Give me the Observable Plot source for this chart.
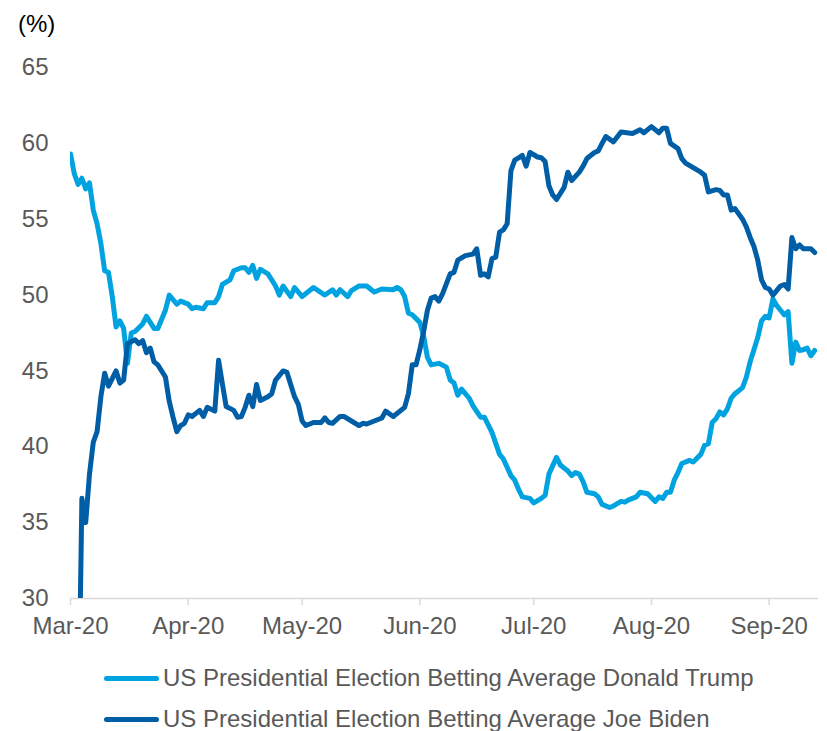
<!DOCTYPE html>
<html><head><meta charset="utf-8">
<script src="https://cdn.jsdelivr.net/npm/d3@7"></script>
<script src="https://cdn.jsdelivr.net/npm/@observablehq/plot@0.6"></script>
<style>
body{margin:0;background:#fff;font-family:"Liberation Sans",Arial,sans-serif;}
#wrap{position:relative;width:827px;height:731px;overflow:hidden;}
#unit{position:absolute;left:18px;top:9px;font-size:24px;color:#000;line-height:30px;}
.leg{position:absolute;left:104px;height:30px;display:flex;align-items:center;font-size:24px;color:#595959;white-space:nowrap;}
.sw{width:55px;height:5px;border-radius:3px;margin-right:4px;}
</style></head><body>
<div id="wrap"><div id="chart"></div><div id="unit">(%)</div><div id="legend"></div></div>
<script>
const seriesNames = ["US Presidential Election Betting Average Donald Trump", "US Presidential Election Betting Average Joe Biden"];
const seriesColors = ["#00A3E0", "#005EA6"];
const xTickDates = ["2020-03-01","2020-04-01","2020-05-01","2020-06-01","2020-07-01","2020-08-01","2020-09-01"];
const yTicks = [30,35,40,45,50,55,60,65];

const trumpDates = [
"2020-03-01","2020-03-02","2020-03-03","2020-03-04","2020-03-05","2020-03-06","2020-03-07","2020-03-08","2020-03-09","2020-03-10","2020-03-11","2020-03-12","2020-03-13","2020-03-14","2020-03-15","2020-03-16","2020-03-17","2020-03-18","2020-03-20","2020-03-21","2020-03-23","2020-03-24","2020-03-26","2020-03-27","2020-03-29","2020-03-30",
"2020-04-01","2020-04-02","2020-04-03","2020-04-05","2020-04-06","2020-04-08","2020-04-09","2020-04-10","2020-04-12","2020-04-13","2020-04-15","2020-04-16","2020-04-17","2020-04-18","2020-04-19","2020-04-20","2020-04-22","2020-04-24","2020-04-25","2020-04-26","2020-04-28","2020-04-29",
"2020-05-01","2020-05-02","2020-05-04","2020-05-07","2020-05-09","2020-05-10","2020-05-11","2020-05-13","2020-05-14","2020-05-16","2020-05-18","2020-05-20","2020-05-22","2020-05-25","2020-05-26","2020-05-27","2020-05-28","2020-05-29","2020-05-30",
"2020-06-01","2020-06-02","2020-06-03","2020-06-04","2020-06-06","2020-06-08","2020-06-09","2020-06-10","2020-06-11","2020-06-12","2020-06-14","2020-06-15","2020-06-17","2020-06-18","2020-06-20","2020-06-22","2020-06-23","2020-06-25","2020-06-26","2020-06-27","2020-06-28","2020-06-30",
"2020-07-01","2020-07-03","2020-07-04","2020-07-05","2020-07-07","2020-07-08","2020-07-10","2020-07-11","2020-07-12","2020-07-13","2020-07-14","2020-07-15","2020-07-17","2020-07-18","2020-07-19","2020-07-21","2020-07-22","2020-07-24","2020-07-25","2020-07-26","2020-07-28","2020-07-29","2020-07-31",
"2020-08-02","2020-08-03","2020-08-04","2020-08-05","2020-08-06","2020-08-07","2020-08-08","2020-08-09","2020-08-11","2020-08-12","2020-08-14","2020-08-15","2020-08-16","2020-08-17","2020-08-18","2020-08-19","2020-08-20","2020-08-21","2020-08-22","2020-08-23","2020-08-25","2020-08-26","2020-08-27","2020-08-28","2020-08-29","2020-08-30","2020-08-31",
"2020-09-01","2020-09-02","2020-09-03","2020-09-04","2020-09-05","2020-09-06","2020-09-07","2020-09-08","2020-09-09","2020-09-10","2020-09-11","2020-09-12","2020-09-13"];
const trumpValues = [
59.3,58.0,57.3,57.7,57.0,57.4,55.6,54.7,53.4,51.6,51.5,49.9,47.9,48.3,47.8,45.5,47.5,47.6,48.1,48.6,47.8,47.8,49.0,50.0,49.4,49.6,
49.4,49.1,49.2,49.1,49.5,49.5,49.9,50.7,51.0,51.6,51.8,51.8,51.5,51.95,51.1,51.7,51.4,50.6,50.0,50.6,49.9,50.5,
49.9,50.1,50.5,50.0,50.35,50.0,50.35,49.9,50.3,50.6,50.6,50.2,50.4,50.35,50.5,50.35,49.9,48.8,48.7,
48.2,47.3,45.9,45.4,45.5,45.25,44.4,44.2,43.4,43.8,43.2,42.7,41.95,41.95,40.95,39.5,39.2,38.1,37.8,37.2,36.7,36.6,
36.3,36.6,36.8,38.2,39.3,38.8,38.4,38.1,38.3,38.2,37.7,37.0,36.9,36.7,36.2,36.0,36.1,36.4,36.35,36.5,36.7,37.0,36.9,
36.4,36.7,36.6,37.0,37.0,37.8,38.3,38.9,39.1,39.0,39.5,40.1,40.2,41.6,41.85,42.3,42.1,42.5,43.2,43.5,43.9,44.6,45.6,46.4,47.2,48.3,48.6,
48.5,49.75,49.3,49.0,48.7,48.9,45.5,46.9,46.35,46.4,46.5,46.0,46.35];

const bidenDates = [
"2020-03-03","2020-03-04","2020-03-05","2020-03-06","2020-03-07","2020-03-08","2020-03-09","2020-03-10","2020-03-11","2020-03-13","2020-03-14","2020-03-15","2020-03-16","2020-03-18","2020-03-19","2020-03-20","2020-03-21","2020-03-22","2020-03-23","2020-03-24","2020-03-26","2020-03-27","2020-03-28","2020-03-29","2020-03-30","2020-03-31",
"2020-04-01","2020-04-02","2020-04-04","2020-04-05","2020-04-06","2020-04-08","2020-04-09","2020-04-10","2020-04-11","2020-04-13","2020-04-14","2020-04-15","2020-04-16","2020-04-17","2020-04-18","2020-04-19","2020-04-20","2020-04-22","2020-04-23","2020-04-24","2020-04-26","2020-04-27","2020-04-29","2020-04-30",
"2020-05-01","2020-05-02","2020-05-04","2020-05-06","2020-05-07","2020-05-08","2020-05-09","2020-05-11","2020-05-12","2020-05-14","2020-05-16","2020-05-17","2020-05-18","2020-05-20","2020-05-22","2020-05-23","2020-05-25","2020-05-28","2020-05-29","2020-05-30","2020-05-31",
"2020-06-01","2020-06-02","2020-06-03","2020-06-04","2020-06-05","2020-06-06","2020-06-07","2020-06-09","2020-06-10","2020-06-11","2020-06-13","2020-06-15","2020-06-16","2020-06-17","2020-06-18","2020-06-19","2020-06-20","2020-06-21","2020-06-22","2020-06-23","2020-06-24","2020-06-25","2020-06-26","2020-06-27","2020-06-28","2020-06-29","2020-06-30",
"2020-07-02","2020-07-03","2020-07-04","2020-07-05","2020-07-06","2020-07-07","2020-07-09","2020-07-10","2020-07-11","2020-07-13","2020-07-14","2020-07-15","2020-07-17","2020-07-18","2020-07-19","2020-07-20","2020-07-22","2020-07-24","2020-07-27","2020-07-29","2020-07-30",
"2020-08-01","2020-08-03","2020-08-04","2020-08-05","2020-08-06","2020-08-08","2020-08-09","2020-08-10","2020-08-12","2020-08-14","2020-08-15","2020-08-16","2020-08-18","2020-08-19","2020-08-20","2020-08-21","2020-08-22","2020-08-23","2020-08-25","2020-08-26","2020-08-27","2020-08-28","2020-08-29","2020-08-30","2020-08-31",
"2020-09-01","2020-09-02","2020-09-04","2020-09-05","2020-09-06","2020-09-07","2020-09-08","2020-09-09","2020-09-10","2020-09-12","2020-09-13"];
const bidenValues = [
20,36.6,35.0,38.2,40.3,41.0,43.3,44.85,44.0,45.0,44.2,44.4,46.8,47.05,46.8,47.0,46.2,46.5,45.6,45.4,44.6,43.0,41.95,41.0,41.4,41.55,
42.1,42.0,42.4,42.0,42.6,42.35,45.7,44.15,42.65,42.4,41.95,42.0,42.6,43.4,42.65,44.1,43.05,43.3,43.5,44.4,45.0,44.9,43.3,42.8,
41.7,41.4,41.6,41.6,41.9,41.6,41.55,42.0,42.0,41.7,41.4,41.55,41.5,41.7,41.9,42.35,42.0,42.6,43.5,45.4,45.4,
46.4,47.6,49.0,49.8,49.9,49.6,50.1,51.4,51.5,52.3,52.6,52.7,53.05,51.3,51.4,51.2,52.4,52.5,54.15,54.3,54.7,58.2,58.9,59.05,59.2,58.5,59.4,
59.1,59.05,58.8,57.2,56.6,56.3,57.1,58.1,57.55,58.1,58.5,59.0,59.4,59.5,60.0,60.45,60.1,60.75,60.65,60.9,60.7,
61.1,60.7,61.0,61.0,60.0,59.65,59.0,58.7,58.4,58.1,57.9,56.8,56.95,56.9,56.6,56.6,55.6,55.7,55.0,54.5,53.8,53.2,52.3,51.0,50.5,
50.4,50.0,50.6,50.7,50.4,53.8,53.05,53.3,53.05,53.05,52.8];

const trump = trumpDates.map((d, i) => ({date: new Date(d), value: trumpValues[i]}));
const biden = bidenDates.map((d, i) => ({date: new Date(d), value: bidenValues[i]}));

const chart = Plot.plot({
  width: 827,
  height: 645,
  marginLeft: 70,
  marginRight: 9,
  marginTop: 67,
  marginBottom: 47,
  style: {fontFamily: '"Liberation Sans", Arial, sans-serif', fontSize: "24px", color: "#595959", background: "#fff", overflow: "visible"},
  x: {type: "utc", domain: [new Date("2020-03-01"), new Date("2020-09-14")]},
  y: {domain: [30, 65]},
  marks: [
    Plot.ruleY([30], {stroke: "#d9d9d9", strokeWidth: 1.5}),
    Plot.axisX(xTickDates.map(d => new Date(d)), {tickFormat: d3.utcFormat("%b-%y"), tickSize: 7, tickPadding: 11, stroke: "#d9d9d9", strokeWidth: 1.5, fontSize: 24, label: null}),
    Plot.axisY(yTicks, {tickSize: 0, tickPadding: 22, fontSize: 24, label: null}),
    Plot.lineY(trump, {x: "date", y: "value", stroke: seriesColors[0], strokeWidth: 5, strokeLinejoin: "round", strokeLinecap: "round", clip: true}),
    Plot.lineY(biden, {x: "date", y: "value", stroke: seriesColors[1], strokeWidth: 5, strokeLinejoin: "round", strokeLinecap: "round", clip: true})
  ]
});
document.getElementById("chart").appendChild(chart);

const legend = document.getElementById("legend");
seriesNames.forEach((name, i) => {
  const row = document.createElement("div");
  row.className = "leg";
  row.style.top = (663 + i * 41) + "px";
  const sw = document.createElement("div");
  sw.className = "sw";
  sw.style.background = seriesColors[i];
  const t = document.createElement("span");
  t.textContent = name;
  row.appendChild(sw);
  row.appendChild(t);
  legend.appendChild(row);
});
</script>
</body></html>
